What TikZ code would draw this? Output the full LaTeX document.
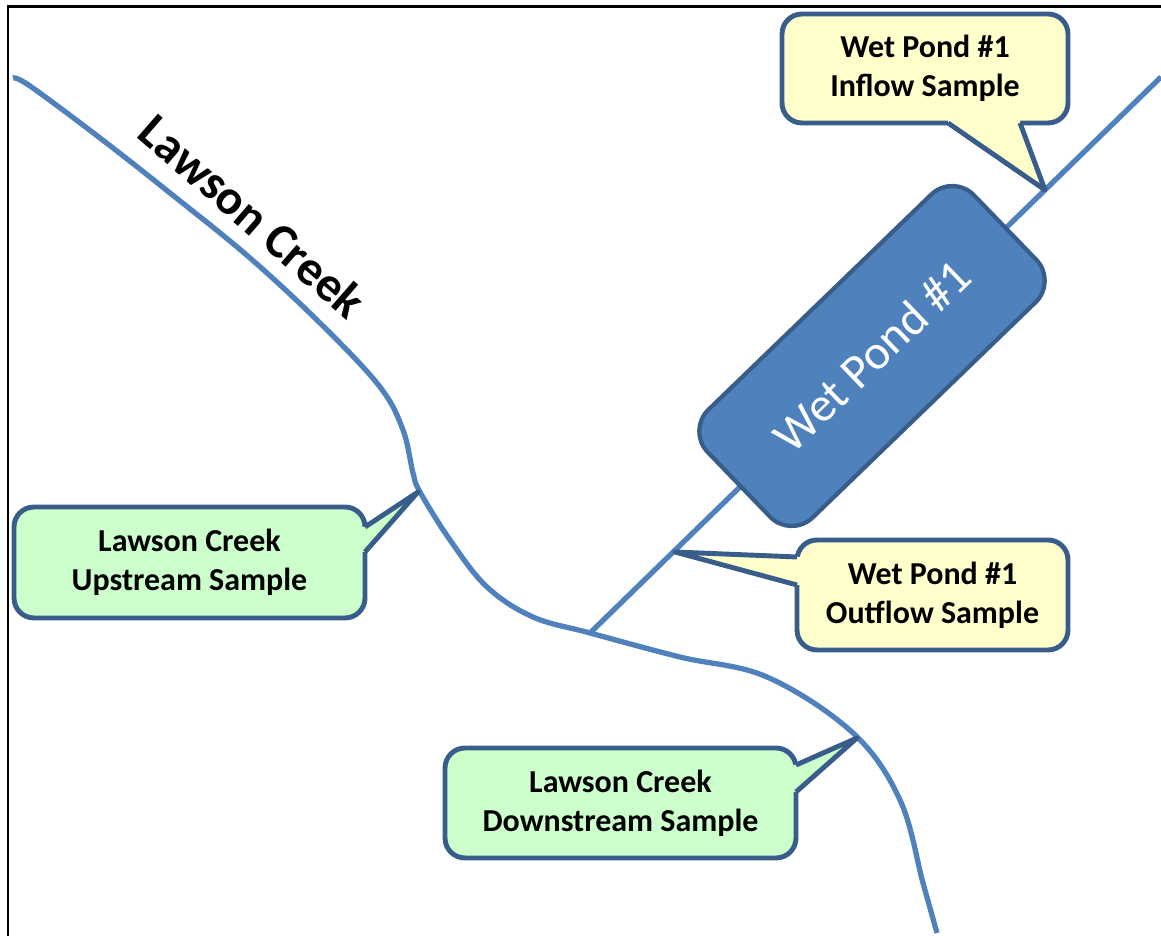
\documentclass[tikz,border=0pt]{standalone}
\usepackage{fontspec}
\setmainfont{Carlito}
\usepackage{tikz}
\definecolor{riverblue}{HTML}{4F81BD}
\definecolor{edgeblue}{HTML}{385D8A}
\definecolor{paleyellow}{HTML}{FFFFCC}
\definecolor{palegreen}{HTML}{CCFFCC}

\begin{document}
\begin{tikzpicture}[creek/.style={draw=riverblue, line width=1.5pt},
				pondbox/.style={rectangle, rounded corners=0.3cm, draw=edgeblue, line width=1.2pt, fill=riverblue, text=white, font=\fontsize{13.8}{16}\selectfont, minimum width=3.7cm, minimum height=1.5cm},
				sampleY/.style={rectangle, rounded corners=0.2cm, draw=edgeblue, line width=1.4pt, fill=paleyellow, align=center, outer sep=0pt, inner sep=0pt, font=\fontsize{9.1}{11.1}\selectfont\bfseries},
				sampleG/.style={rectangle, rounded corners=0.2cm, draw=edgeblue, line width=1.4pt, fill=palegreen, align=center, outer sep=0pt, inner sep=0pt, font=\fontsize{9.1}{11.1}\selectfont\bfseries},
				tipline/.style={draw=edgeblue, line width=1.4pt, line join=round}]
	\useasboundingbox (0,0) rectangle (11.61,9.36);
	\draw[line width=0.85pt] (0.08,0) -- (0.08,9.29) -- (11.61,9.29);
	% creek and pond outlet
	\draw[creek] plot[smooth, tension=0.6] coordinates {(0.13,8.58) (0.30,8.50) (1.00,7.98) (1.70,7.43) (2.50,6.78) (3.23,6.10) (3.80,5.49) (4.03,5.06) (4.13,4.63) (4.20,4.44) (4.50,3.96) (4.87,3.49) (5.33,3.19) (5.90,3.03) (6.80,2.79) (7.67,2.59) (8.53,2.03) (9.00,1.36) (9.23,0.53) (9.37,0.03)};
	\coordinate (J) at (5.90,3.03);
	\coordinate (E) at (11.61,8.59);
	\draw[creek] (J) -- (E);
	\node[pondbox, rotate=44] (P) at (8.72,5.80) {Wet Pond \#1};
	\node[font=\fontsize{14}{16}\selectfont\bfseries, rotate=-41] (LC) at (2.53,7.20) {Lawson Creek};
	% sample boxes
	\node[sampleY, minimum width=2.86cm, minimum height=1.09cm] (IN) at (9.25,8.675) {Wet Pond \#1\\Inflow Sample};
	\node[sampleG, minimum width=3.51cm, minimum height=1.11cm] (UP) at (1.895,3.735) {Lawson Creek\\Upstream Sample};
	\node[sampleY, minimum width=2.71cm, minimum height=1.10cm] (OUT) at (9.325,3.41) {Wet Pond \#1\\Outflow Sample};
	\node[sampleG, minimum width=3.51cm, minimum height=1.10cm] (DN) at (6.205,1.33) {Lawson Creek\\Downstream Sample};
	\coordinate (Ti) at (10.45,7.46);
	\coordinate (Tu) at (4.18,4.44);
	\coordinate (To) at (6.75,3.84);
	\coordinate (Td) at (8.57,1.98);
	% pointers
	\fill[paleyellow] ([shift={(0.23,0.06)}]IN.south) -- ([xshift=0.23cm]IN.south) -- (Ti) -- ([xshift=0.95cm]IN.south) -- ([shift={(0.95,0.06)}]IN.south) -- cycle;
	\draw[tipline] ([xshift=0.23cm]IN.south) -- (Ti) -- ([xshift=0.95cm]IN.south);
	\fill[palegreen] ([shift={(-0.06,0.355)}]UP.east) -- ([yshift=0.355cm]UP.east) -- (Tu) -- ([yshift=0.105cm]UP.east) -- ([shift={(-0.06,0.105)}]UP.east) -- cycle;
	\draw[tipline] ([yshift=0.355cm]UP.east) -- (Tu) -- ([yshift=0.105cm]UP.east);
	\fill[paleyellow] ([shift={(0.06,0.38)}]OUT.west) -- ([yshift=0.38cm]OUT.west) -- (To) -- ([yshift=0.10cm]OUT.west) -- ([shift={(0.06,0.10)}]OUT.west) -- cycle;
	\draw[tipline] ([yshift=0.38cm]OUT.west) -- (To) -- ([yshift=0.10cm]OUT.west);
	\fill[palegreen] ([shift={(-0.06,0.38)}]DN.east) -- ([yshift=0.38cm]DN.east) -- (Td) -- ([yshift=0.11cm]DN.east) -- ([shift={(-0.06,0.11)}]DN.east) -- cycle;
	\draw[tipline] ([yshift=0.38cm]DN.east) -- (Td) -- ([yshift=0.11cm]DN.east);
\end{tikzpicture}
\end{document}
